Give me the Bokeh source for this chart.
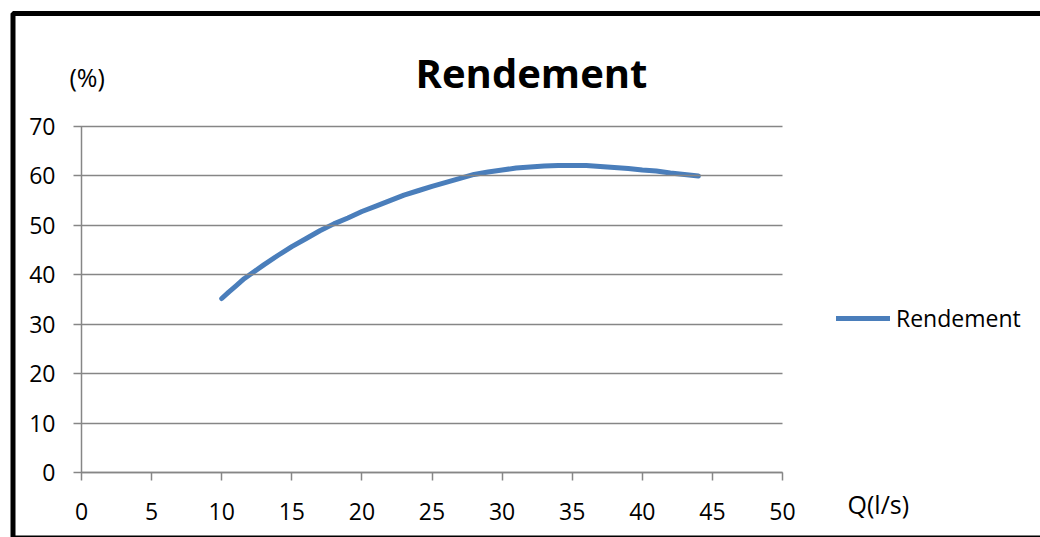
from bokeh.plotting import figure
from bokeh.models import Label, Legend, LegendItem, BoxAnnotation, Range1d, FixedTicker
from bokeh.embed import file_html
from bokeh.resources import INLINE

# Data
q_values = [10, 10.5, 11, 11.6, 12, 13, 14, 15, 16, 17, 18, 19, 20, 21, 22, 23, 24, 25, 26, 27,
            28, 29, 30, 31, 32, 33, 34, 35, 36, 37, 38, 39, 40, 41, 42, 43, 44]
rendement = [35.2, 36.5, 37.7, 39.2, 40.0, 42.0, 43.9, 45.7, 47.3, 48.9, 50.3, 51.5, 52.8, 53.9, 55.0,
             56.1, 57.0, 57.9, 58.7, 59.5, 60.3, 60.8, 61.2, 61.6, 61.8, 62.0, 62.1, 62.1, 62.1, 61.9,
             61.7, 61.5, 61.2, 61.0, 60.6, 60.3, 60.0]
x_ticks = [0, 5, 10, 15, 20, 25, 30, 35, 40, 45, 50]
y_ticks = [0, 10, 20, 30, 40, 50, 60, 70]
title_text = "Rendement"
series_name = "Rendement"
y_unit = "(%)"
x_unit = "Q(l/s)"

FONT = "Open Sans"
GRID = "#868686"
BLUE = "#4A7EBB"
FS = "23px"
W, H = 1040, 537

# plot frame covers the whole canvas; axes sit at x=0 / y=0 inside it
p = figure(width=W, height=H, output_backend="svg", toolbar_location=None,
           x_range=Range1d(-5.777, 68.40), y_range=Range1d(-13.15, 95.49),
           min_border=0, min_border_left=0, min_border_right=0, min_border_top=0, min_border_bottom=0)
p.title.visible = False
p.outline_line_color = None
p.background_fill_color = "white"
p.border_fill_color = "white"
p.xgrid.visible = False
p.ygrid.visible = False

r = p.line(q_values, rendement, line_color=BLUE, line_width=5, line_cap="round", line_join="round")

p.xaxis[0].fixed_location = 0
p.yaxis[0].fixed_location = 0
p.xaxis[0].bounds = (x_ticks[0], x_ticks[-1])
p.yaxis[0].bounds = (y_ticks[0], y_ticks[-1])
for ax, ticks in ((p.xaxis[0], x_ticks), (p.yaxis[0], y_ticks)):
    ax.ticker = FixedTicker(ticks=ticks)
    ax.axis_line_color = GRID
    ax.axis_line_width = 1.5
    ax.major_tick_line_color = GRID
    ax.major_tick_line_width = 1.5
    ax.major_tick_out = 8
    ax.major_tick_in = 0
    ax.minor_tick_line_color = None
    ax.major_label_text_font = FONT
    ax.major_label_text_font_size = FS
    ax.major_label_text_color = "black"
# the y ticks run across the plot area (0..50) and act as horizontal grid lines
p.yaxis[0].major_tick_in = 701
p.xaxis.major_label_standoff = 22
p.yaxis.major_label_standoff = 18

legend = Legend(items=[LegendItem(label=series_name, renderers=[r])],
                location=(836, 203), glyph_width=54, glyph_height=30, label_height=30,
                label_standoff=6, padding=0, margin=0, spacing=0,
                border_line_color=None, background_fill_alpha=0,
                label_text_font=FONT, label_text_font_size=FS, label_text_color="black")
p.add_layout(legend)

p.add_layout(Label(x=531, y=H - 72, x_units="screen", y_units="screen", text=title_text,
                   text_font=FONT, text_font_size="40px", text_font_style="bold",
                   text_align="center", text_baseline="middle", text_color="black"))
p.add_layout(Label(x=69, y=H - 76, x_units="screen", y_units="screen", text=y_unit,
                   text_font=FONT, text_font_size="25px", text_baseline="middle", text_color="black"))
p.add_layout(Label(x=847, y=H - 503, x_units="screen", y_units="screen", text=x_unit,
                   text_font=FONT, text_font_size="25px", text_baseline="middle", text_color="black"))

p.add_layout(BoxAnnotation(left=12.5, right=1100, top=H - 13, bottom=-0.5,
                           left_units="screen", right_units="screen", top_units="screen", bottom_units="screen",
                           fill_alpha=0, line_color="black", line_alpha=1, line_width=5))

open("out.html", "w").write(file_html(p, INLINE))
